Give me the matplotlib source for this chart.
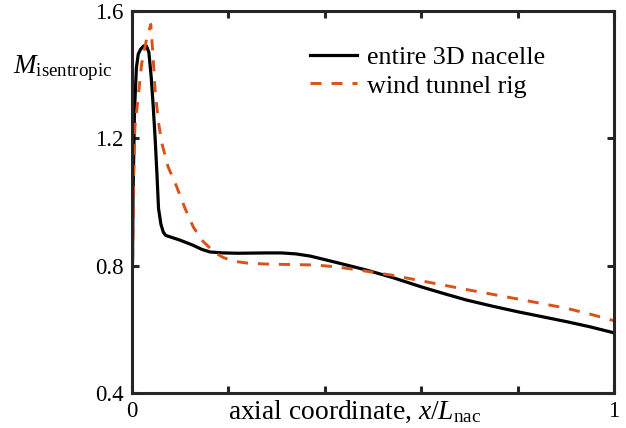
import numpy as np
import matplotlib
matplotlib.use("Agg")
import matplotlib.pyplot as plt

# isentropic Mach number along the nacelle
x_nacelle = [0.0, 0.002, 0.005, 0.009, 0.013, 0.018, 0.024, 0.030, 0.035, 0.040,
             0.044, 0.048, 0.052, 0.055, 0.060, 0.065, 0.070, 0.080, 0.10, 0.127,
             0.145, 0.162, 0.19, 0.22, 0.279, 0.31, 0.34, 0.37, 0.40, 0.44, 0.487,
             0.54, 0.601, 0.65, 0.694, 0.75, 0.801, 0.85, 0.902, 0.95, 1.0]
m_nacelle = [0.62, 1.00, 1.28, 1.42, 1.465, 1.48, 1.49, 1.49, 1.47, 1.39,
             1.30, 1.20, 1.08, 0.98, 0.93, 0.905, 0.895, 0.89, 0.88, 0.864,
             0.851, 0.843, 0.840, 0.839, 0.840, 0.840, 0.837, 0.830, 0.819, 0.804, 0.786,
             0.763, 0.733, 0.711, 0.692, 0.672, 0.655, 0.640, 0.624, 0.608, 0.589]

x_rig = [0.0, 0.003, 0.006, 0.01, 0.02, 0.03, 0.039, 0.044, 0.048, 0.055, 0.062,
         0.075, 0.093, 0.11, 0.127, 0.145, 0.162, 0.175, 0.189, 0.21, 0.24, 0.279,
         0.383, 0.43, 0.480, 0.54, 0.591, 0.694, 0.805, 0.902, 0.95, 1.0]
m_rig = [0.62, 1.05, 1.235, 1.29, 1.434, 1.51, 1.558, 1.45, 1.35, 1.25, 1.184,
         1.11, 1.047, 0.98, 0.922, 0.880, 0.855, 0.838, 0.826, 0.814, 0.808, 0.805,
         0.802, 0.795, 0.784, 0.770, 0.755, 0.725, 0.694, 0.666, 0.648, 0.627]

series_labels = ['entire 3D nacelle', 'wind tunnel rig']
x_ticks = [0, 0.2, 0.4, 0.6, 0.8, 1.0]
x_ticklabels = ['0', '', '', '', '', '1']
y_ticks = [0.4, 0.8, 1.2, 1.6]
y_ticklabels = ['0.4', '0.8', '1.2', '1.6']

# Times-like text everywhere, maths included
plt.rcParams['font.family'] = 'Liberation Serif'
plt.rcParams['mathtext.fontset'] = 'custom'
plt.rcParams['mathtext.rm'] = 'Liberation Serif'
plt.rcParams['mathtext.it'] = 'Liberation Serif:italic'

fig = plt.figure(figsize=(6.26, 4.28), dpi=100)
ax = fig.add_axes([132/626, 35/428, 482/626, 382/428])

ax.plot(x_nacelle, m_nacelle, color='black', lw=2.3, label=series_labels[0])
ax.plot(x_rig, m_rig, color='#D95319', lw=2.1, dashes=(3.8, 3.4), label=series_labels[1])

ax.set_xlim(0, 1)
ax.set_ylim(0.4, 1.6)
ax.set_xticks(x_ticks)
ax.set_xticklabels(x_ticklabels)
ax.set_yticks(y_ticks)
ax.set_yticklabels(y_ticklabels)

spine_col = '#262626'
for s in ax.spines.values():
    s.set_linewidth(2.2)
    s.set_color(spine_col)
ax.tick_params(direction='in', length=5, width=2.2, color=spine_col,
               top=True, right=True, labelsize=16.5, pad=6)

ax.text(0.462, -0.068, r'axial coordinate, $x/L_{\mathrm{nac}}$',
        transform=ax.transAxes, ha='center', va='baseline', fontsize=19.8)
fig.text(13/626, 1 - 73/428, r'$M_{\mathrm{isentropic}}$', ha='left', va='baseline', fontsize=19.5)

ax.legend(loc='upper left', bbox_to_anchor=(0.369, 0.909), frameon=False,
          fontsize=18.8, borderpad=0, borderaxespad=0, handlelength=1.8,
          handletextpad=0.4, labelspacing=0.2)

fig.savefig('out.png', dpi=100)
